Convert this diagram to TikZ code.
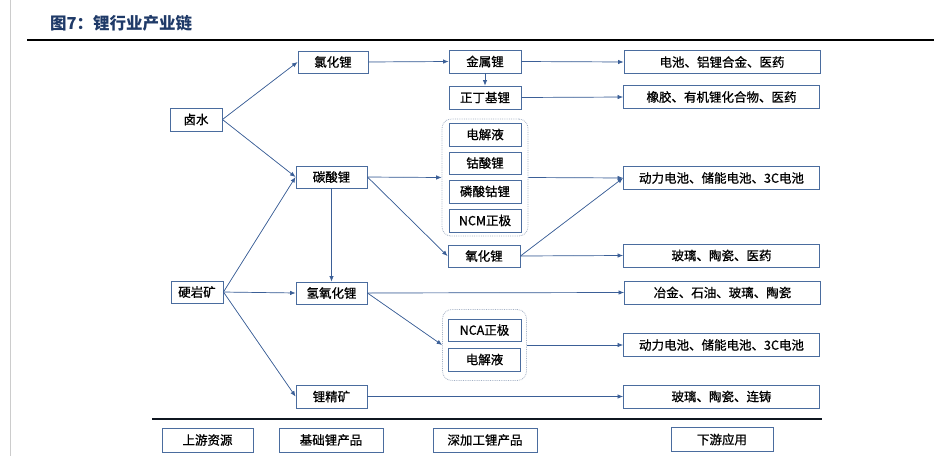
\documentclass[tikz,border=0pt]{standalone}
\usepackage{fontspec}
\newfontfamily\cjk[FakeBold=0.8]{Noto Sans CJK SC}
\newfontfamily\cjktitle{Noto Sans CJK SC}
\usepackage{xcolor}
\usepackage{tikz}
\usetikzlibrary{arrows.meta,positioning,fit,calc}
\definecolor{boxblue}{HTML}{4A6C9E}
\definecolor{arrblue}{HTML}{3B5F97}
\definecolor{grpgray}{HTML}{A3B0C4}
\definecolor{titleblue}{HTML}{1F3A68}
\tikzset{
  box/.style={draw=boxblue,line width=0.9pt,fill=white,align=center,inner sep=0pt,
    minimum width=72pt,minimum height=23pt,font=\cjk\fontsize{12.5}{13}\selectfont},
  app/.style={box,minimum width=196pt},
  grp/.style={draw=grpgray,densely dotted,line width=0.8pt,rounded corners=9pt},
  arr/.style={-{Latex[length=5.5pt,width=4.5pt]},draw=arrblue,fill=arrblue,line width=0.7pt},
}
\begin{document}
\begin{tikzpicture}[x=1pt,y=-1pt]
\useasboundingbox (0,0) rectangle (934,456);
\draw[black!20,line width=0.8pt] (10.5,0) -- (10.5,456);
\node[anchor=west,inner sep=0pt,text=titleblue,font=\cjktitle\bfseries\fontsize{16.5}{17}\selectfont] (title) at (50,23) {图7：锂行业产业链};
\draw[black,line width=2pt] (27,40) -- (934,40);
% upstream
\node[box,minimum width=52pt] (brine) at (196,119.5) {卤水};
\node[box,minimum width=52pt,minimum height=22pt] (rock) at (197,292) {硬岩矿};
% basic lithium products
\node[box,minimum width=70pt,minimum height=22pt] (licl) at (333,62) {氯化锂};
\node[box,minimum width=71pt,minimum height=22pt] (li2co3) at (331.5,177) {碳酸锂};
\node[box,minimum width=71pt,minimum height=22pt] (lioh) at (331.5,293) {氢氧化锂};
\node[box,minimum width=71pt] (conc) at (331.5,396.5) {锂精矿};
% deep processing
\node[box] (metal) at (485,61.5) {金属锂};
\node[box] (butyl) at (485,97.5) {正丁基锂};
\node[box] (ele1) at (485,134.5) {电解液};
\node[box,minimum height=22pt] (lco) at (485,163) {钴酸锂};
\node[box] (lcop) at (485,191.5) {磷酸钴锂};
\node[box] (ncm) at (485,220.5) {NCM正极};
\node[grp,inner xsep=6.5pt,inner ysep=3.5pt,fit=(ele1)(ncm)] (grpA) {};
\node[box,minimum height=22pt] (li2o) at (484,256) {氧化锂};
\node[box,minimum width=73pt,minimum height=22pt] (nca) at (484.5,330) {NCA正极};
\node[box] (ele2) at (484.5,359.5) {电解液};
\node[grp,inner xsep=5pt,inner ysep=9pt,fit=(nca)(ele2)] (grpB) {};
% downstream
\node[app] (appA) at (722,62) {电池、铝锂合金、医药};
\node[app] (appB) at (721.5,97) {橡胶、有机锂化合物、医药};
\node[app] (appC) at (721.5,178) {动力电池、储能电池、3C电池};
\node[app] (appD) at (721.5,255.5) {玻璃、陶瓷、医药};
\node[app] (appE) at (722.5,292.5) {冶金、石油、玻璃、陶瓷};
\node[app] (appF) at (721.5,345) {动力电池、储能电池、3C电池};
\node[app] (appG) at (721.5,396.5) {玻璃、陶瓷、连铸};
% connectors
\foreach \a/\b in {brine/licl,brine/li2co3,rock/li2co3,rock/lioh,rock/conc,
  licl/metal,li2co3/grpA,li2co3/li2o,lioh/grpB,
  metal/appA,butyl/appB,grpA/appC,li2o/appC,li2o/appD,lioh/appE,grpB/appF,conc/appG}
  \draw[arr] (\a.east) -- (\b.west);
\draw[arr] (metal) -- (butyl);
\draw[arr] (li2co3) -- (lioh);
% legend row
\draw[black!80!boxblue,line width=1.2pt] (152,419) -- (822,419);
\node[box,minimum width=91pt,minimum height=24pt] (upst) at (207.5,440) {上游资源};
\node[box,minimum width=104pt,minimum height=24pt] (basic) at (331,440) {基础锂产品};
\node[box,minimum width=104pt,minimum height=24pt] (deep) at (485,440) {深加工锂产品};
\node[box,minimum width=102pt,minimum height=24pt] (down) at (722,439.5) {下游应用};
\end{tikzpicture}
\end{document}
